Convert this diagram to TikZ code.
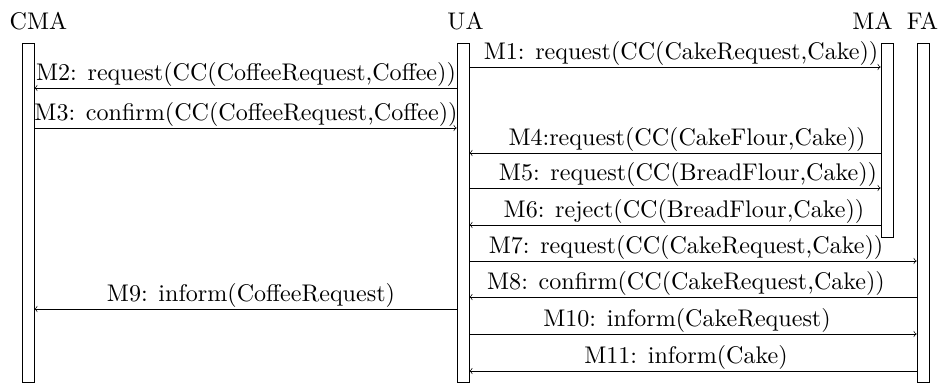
\documentclass[tikz,border=0pt]{standalone}
\begin{document}
\begin{tikzpicture}[x=0.02cm,y=-0.02cm,
    lifeline/.style={draw,minimum width=0.24cm,inner sep=0pt,anchor=north},
    agent/.style={scale=1.37},
    msg/.style={above,inner sep=0.4pt,scale=1.37}]
    \useasboundingbox (0,0) rectangle (943,383);
    % Agenten
    \node[agent] (cmaname) at (38.5,21) {CMA};
    \node[agent] (uaname) at (465.5,21) {UA};
    \node[agent] (maname) at (872.5,21) {MA};
    \node[agent] (faname) at (922.5,21) {FA};
    \node[lifeline,minimum height=6.78cm] (cma) at (28,43) {};
    \node[lifeline,minimum height=6.78cm] (ua) at (463,43) {};
    \node[lifeline,minimum height=3.88cm] (ma) at (887,43) {};
    \node[lifeline,minimum height=6.78cm] (fa) at (923,43) {};
    % Nachrichten
    \coordinate (m1) at (681,67);  \coordinate (m2) at (246,88);
    \coordinate (m3) at (246,128); \coordinate (m4) at (687,153);
    \coordinate (m5) at (688,188); \coordinate (m6) at (684,225);
    \coordinate (m7) at (686,261); \coordinate (m8) at (686,297);
    \coordinate (m9) at (251,309); \coordinate (m10) at (687,334);
    \coordinate (m11) at (686,371);
    \draw[->] (ua.east |- m1) -- (ma.west |- m1);
    \node[msg] at (m1) {M1: request(CC(CakeRequest,Cake))};
    \draw[->] (ua.west |- m2) -- (cma.east |- m2);
    \node[msg] at (m2) {M2: request(CC(CoffeeRequest,Coffee))};
    \draw[->] (cma.east |- m3) -- (ua.west |- m3);
    \node[msg] at (m3) {M3: confirm(CC(CoffeeRequest,Coffee))};
    \draw[->] (ma.west |- m4) -- (ua.east |- m4);
    \node[msg] at (m4) {M4:request(CC(CakeFlour,Cake))};
    \draw[->] (ua.east |- m5) -- (ma.west |- m5);
    \node[msg] at (m5) {M5: request(CC(BreadFlour,Cake))};
    \draw[->] (ma.west |- m6) -- (ua.east |- m6);
    \node[msg] at (m6) {M6: reject(CC(BreadFlour,Cake))};
    \draw[->] (ua.east |- m7) -- (fa.west |- m7);
    \node[msg] at (m7) {M7: request(CC(CakeRequest,Cake))};
    \draw[->] (fa.west |- m8) -- (ua.east |- m8);
    \node[msg] at (m8) {M8: confirm(CC(CakeRequest,Cake))};
    \draw[->] (ua.west |- m9) -- (cma.east |- m9);
    \node[msg] at (m9) {M9: inform(CoffeeRequest)};
    \draw[->] (ua.east |- m10) -- (fa.west |- m10);
    \node[msg] at (m10) {M10: inform(CakeRequest)};
    \draw[->] (fa.west |- m11) -- (ua.east |- m11);
    \node[msg] at (m11) {M11: inform(Cake)};
\end{tikzpicture}
\end{document}
